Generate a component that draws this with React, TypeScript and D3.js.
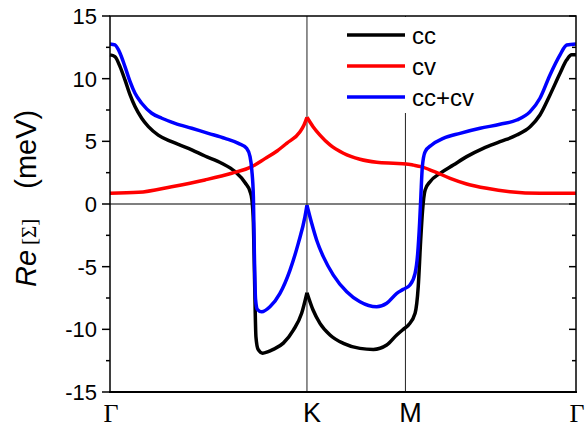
import * as d3 from "d3";

// k-path coordinate: Γ = 0, K = 1, M = 1.5, Γ = 1.5 + √3/2
const K_POS = 1;
const M_POS = 1.5;
const G_END = 1.5 + Math.sqrt(3) / 2;

const yTicks = [-15, -10, -5, 0, 5, 10, 15];
const yMinor = [-12.5, -7.5, -2.5, 2.5, 7.5, 12.5];

const pathLabels = [
  { label: "Γ", x: 0, serif: true },
  { label: "K", x: K_POS, serif: false },
  { label: "M", x: M_POS, serif: false },
  { label: "Γ", x: G_END, serif: true },
];

const ccData: [number, number][] = [
  [0, 11.9], [0.025, 11.76], [0.051, 10.96], [0.076, 9.9], [0.102, 8.7],
  [0.127, 7.77], [0.161, 6.84], [0.195, 6.17], [0.245, 5.5], [0.313, 4.97],
  [0.398, 4.44], [0.482, 3.83], [0.567, 3.25], [0.635, 2.58], [0.686, 1.7],
  [0.711, 1.0], [0.72, 0.4], [0.728, -1.5], [0.734, -6], [0.741, -10.6],
  [0.752, -11.6], [0.775, -11.9], [0.8, -11.8], [0.829, -11.6], [0.88, -11.1],
  [0.931, -10.06], [0.973, -8.72], [1.0, -7.08], [1.031, -8.46], [1.066, -9.52],
  [1.117, -10.45], [1.185, -11.12], [1.269, -11.52], [1.337, -11.6], [1.405, -11.25],
  [1.456, -10.45], [1.489, -10.0], [1.515, -9.66], [1.549, -8.72], [1.565, -6.6],
  [1.577, -3], [1.587, -0.5], [1.6, 1.12], [1.625, 1.78], [1.676, 2.45],
  [1.743, 3.11], [1.811, 3.78], [1.895, 4.44], [1.98, 4.97], [2.065, 5.5],
  [2.133, 6.17], [2.183, 7.1], [2.234, 8.7], [2.285, 10.43], [2.319, 11.5],
  [2.344, 11.9], [2.366, 11.9],
];

const cvData: [number, number][] = [
  [0, 0.85], [0.145, 0.93], [0.313, 1.38], [0.482, 1.92], [0.618, 2.45],
  [0.72, 2.98], [0.787, 3.62], [0.85, 4.25], [0.897, 4.84], [0.965, 5.77],
  [0.985, 6.3], [1.0, 6.92], [1.031, 6.17], [1.066, 5.5], [1.117, 4.71],
  [1.185, 4.05], [1.269, 3.57], [1.354, 3.33], [1.439, 3.25], [1.503, 3.2],
  [1.541, 3.1], [1.579, 2.98], [1.647, 2.58], [1.727, 2.05], [1.811, 1.6],
  [1.913, 1.25], [2.031, 0.98], [2.183, 0.85], [2.366, 0.85],
];

const sumData: [number, number][] = [
  [0, 12.77], [0.025, 12.69], [0.051, 12.03], [0.076, 10.96], [0.102, 9.76],
  [0.127, 8.83], [0.161, 8.04], [0.212, 7.24], [0.263, 6.84], [0.33, 6.44],
  [0.415, 6.04], [0.499, 5.64], [0.584, 5.24], [0.652, 4.84], [0.694, 4.44],
  [0.711, 3.78], [0.72, 2.71], [0.728, 0.58], [0.733, -4], [0.739, -7.6],
  [0.748, -8.4], [0.77, -8.6], [0.812, -8.2], [0.863, -7.13], [0.914, -5.27],
  [0.956, -3.14], [0.99, -1.01], [1.0, -0.1], [1.024, -1.54], [1.049, -2.87],
  [1.083, -4.2], [1.134, -5.67], [1.202, -7.0], [1.269, -7.8], [1.354, -8.2],
  [1.405, -7.92], [1.456, -7.13], [1.489, -6.81], [1.523, -6.46], [1.549, -5.53],
  [1.562, -4.0], [1.572, -1.5], [1.578, 0.5], [1.586, 3.0], [1.6, 4.17],
  [1.633, 4.71], [1.692, 5.24], [1.777, 5.64], [1.879, 6.04], [1.98, 6.36],
  [2.065, 6.7], [2.133, 7.37], [2.183, 8.44], [2.234, 10.3], [2.285, 11.9],
  [2.319, 12.69], [2.366, 12.77],
];

const series = [
  { name: "cc", color: "#000000", data: ccData },
  { name: "cv", color: "#ff0000", data: cvData },
  { name: "cc+cv", color: "#0000ff", data: sumData },
];

const width = 588;
const height = 429;
const margin = { left: 110, right: 12, top: 16, bottom: 37 };
const SANS = "'Liberation Sans', Arial, sans-serif";
const SERIF = "'Liberation Serif', 'Times New Roman', serif";

export default function App() {
  const x = d3.scaleLinear().domain([0, G_END]).range([margin.left, width - margin.right]);
  const y = d3.scaleLinear().domain([-15, 15]).range([height - margin.bottom, margin.top]);
  const [x0, x1] = x.range();
  const [yb, yt] = y.range();

  const line = d3
    .line<[number, number]>()
    .x((d) => x(d[0]))
    .y((d) => y(d[1]))
    .curve(d3.curveMonotoneX);

  // split at K so the cusp stays sharp
  const pieces = (data: [number, number][]) => [
    data.filter((d) => d[0] <= K_POS),
    data.filter((d) => d[0] >= K_POS),
  ];

  const legendX = 347;
  const legendY = 35;
  const legendGap = 31;

  return (
    <svg width={width} height={height} style={{ position: "absolute", left: 0, top: 0, background: "#fff" }}>
      {/* zero line and symmetry lines */}
      <line x1={x0} x2={x1} y1={y(0)} y2={y(0)} stroke="#000" strokeWidth={1.2} />
      <line x1={x(K_POS)} x2={x(K_POS)} y1={yt} y2={yb} stroke="#222" strokeWidth={1} />
      <line x1={x(M_POS)} x2={x(M_POS)} y1={yt} y2={yb} stroke="#222" strokeWidth={1} />

      {series.map((s) =>
        pieces(s.data).map((p, i) => (
          <path key={s.name + i} d={line(p) ?? ""} fill="none" stroke={s.color} strokeWidth={3.5} strokeLinejoin="round" />
        ))
      )}

      {/* legend */}
      <rect x={338} y={yt + 1} width={145} height={96} fill="#fff" />
      {series.map((s, i) => (
        <g key={s.name}>
          <line x1={legendX} x2={legendX + 58} y1={legendY + i * legendGap} y2={legendY + i * legendGap} stroke={s.color} strokeWidth={3.5} />
          <text x={legendX + 65} y={legendY + i * legendGap + 8.5} fontFamily={SANS} fontSize={24}>
            {s.name}
          </text>
        </g>
      ))}

      {/* frame */}
      <rect x={x0} y={yt} width={x1 - x0} height={yb - yt} fill="none" stroke="#000" strokeWidth={1.5} />
      <line x1={x0 - 1} x2={x1 + 1} y1={yb} y2={yb} stroke="#000" strokeWidth={2} />

      {/* y ticks */}
      {yTicks.map((t) => (
        <g key={t}>
          <line x1={x0 - 8} x2={x0} y1={y(t)} y2={y(t)} stroke="#000" strokeWidth={1.5} />
          <line x1={x1 - 7} x2={x1} y1={y(t)} y2={y(t)} stroke="#000" strokeWidth={1.5} />
          <text x={x0 - 13} y={y(t)} dy="0.36em" textAnchor="end" fontFamily={SANS} fontSize={22}>
            {t}
          </text>
        </g>
      ))}
      {yMinor.map((t) => (
        <g key={t}>
          <line x1={x0 - 4} x2={x0} y1={y(t)} y2={y(t)} stroke="#000" strokeWidth={1.5} />
          <line x1={x1 - 4} x2={x1} y1={y(t)} y2={y(t)} stroke="#000" strokeWidth={1.5} />
        </g>
      ))}

      {/* x path labels */}
      {pathLabels.map((p, i) => (
        <text
          key={i}
          x={x(p.x) + (p.serif ? 1 : 5)}
          y={422}
          textAnchor="middle"
          fontFamily={p.serif ? SERIF : SANS}
          fontSize={p.serif ? 26 : 27}
        >
          {p.label}
        </text>
      ))}

      {/* y axis title */}
      <text transform="translate(36, 287) rotate(-90)" fontFamily={SANS} fontSize={29}>
        <tspan fontStyle="italic">Re</tspan>
        <tspan dx={5} fontFamily={SERIF} fontSize={21}>[Σ]</tspan>
        <tspan dx={30}>(meV)</tspan>
      </text>
    </svg>
  );
}
